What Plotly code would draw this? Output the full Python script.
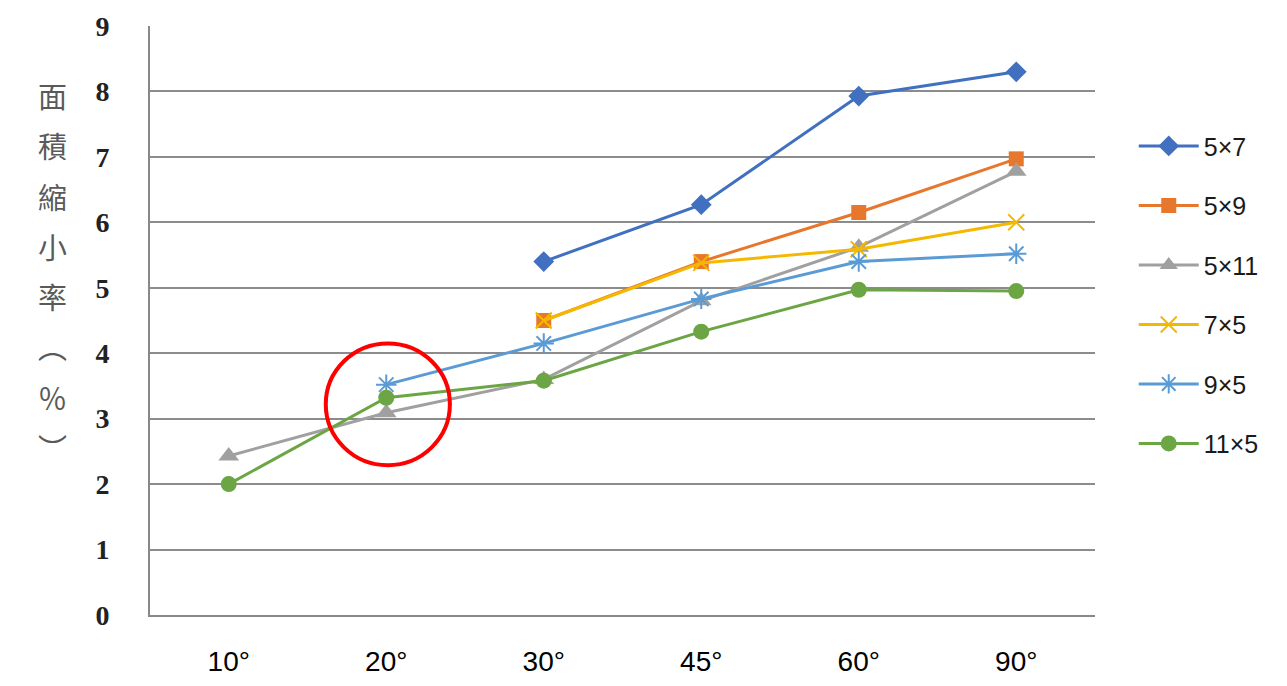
import plotly.graph_objects as go

categories = ["10°", "20°", "30°", "45°", "60°", "90°"]
s_5x7 = [None, None, 5.4, 6.27, 7.93, 8.3]
s_5x9 = [None, None, 4.5, 5.4, 6.15, 6.97]
s_5x11 = [2.43, 3.09, 3.6, 4.8, 5.62, 6.78]
s_7x5 = [None, None, 4.5, 5.38, 5.59, 6.0]
s_9x5 = [None, 3.52, 4.15, 4.83, 5.4, 5.52]
s_11x5 = [2.0, 3.32, 3.58, 4.33, 4.97, 4.95]
names = ["5×7", "5×9", "5×11", "7×5", "9×5", "11×5"]
y_ticks = list(range(0, 10))
title_chars = ["面", "積", "縮", "小", "率", "︵", "％", "︶"]

series = [s_5x7, s_5x9, s_5x11, s_7x5, s_9x5, s_11x5]
colors = ["#4070BF", "#E8772E", "#A0A0A0", "#F5B800", "#5B9BD5", "#6BA544"]
symbols = ["diamond", "square", "triangle-up", "x-thin-open", "asterisk-open", "circle"]
sizes = [16, 15, 18, 16, 17, 16]

narrow = "Liberation Sans Narrow, Liberation Sans"

fig = go.Figure()
for i, (nm, ys) in enumerate(zip(names, series)):
    open_sym = symbols[i].endswith("open")
    fig.add_trace(go.Scatter(
        x=categories, y=ys, name=nm, mode="lines+markers",
        line=dict(color=colors[i], width=3),
        marker=dict(symbol=symbols[i], size=sizes[i], color=colors[i],
                    line=dict(color=colors[i], width=2 if open_sym else 0)),
        legendgroup=nm, connectgaps=False,
    ))

fig.add_shape(type="circle", xref="x", yref="y",
              x0=1.01 - 0.394, x1=1.01 + 0.394, y0=3.22 - 0.93, y1=3.22 + 0.93,
              line=dict(color="#FF0000", width=4))

# vertical axis title, one character per line
for k, ch in enumerate(title_chars):
    fig.add_annotation(
        xref="paper", yref="paper", x=-0.103, y=0.883 - k * 0.0854,
        xanchor="center", yanchor="middle", text=ch, showarrow=False,
        font=dict(family="Noto Sans CJK TC", size=29, color="#5A5A5A"),
    )

fig.update_layout(
    width=1271, height=670,
    margin=dict(l=142, r=184, t=18, b=63),
    plot_bgcolor="white", paper_bgcolor="white",
    showlegend=True,
    legend=dict(x=1.041, y=0.835, xanchor="left", yanchor="top",
                font=dict(family=narrow, size=25, color="#1A1A1A"),
                tracegroupgap=24, itemwidth=60, bgcolor="rgba(0,0,0,0)"),
    xaxis=dict(type="category", categoryorder="array", categoryarray=categories,
               range=[-0.5, 5.5], showgrid=False, showline=True, linecolor="#888888", linewidth=2,
               ticks="", tickfont=dict(family=narrow, size=28, color="#000000"),
               ticklabelstandoff=20, automargin=False),
    yaxis=dict(range=[0, 9], tickvals=y_ticks, showgrid=True, gridcolor="#8C8C8C", gridwidth=1.5,
               showline=True, linecolor="#888888", linewidth=2, zeroline=False, ticks="",
               tickfont=dict(family="Liberation Serif", size=28, color="#222222", weight="bold"),
               ticklabelstandoff=33, automargin=False),
)

fig.write_html("out.html")
